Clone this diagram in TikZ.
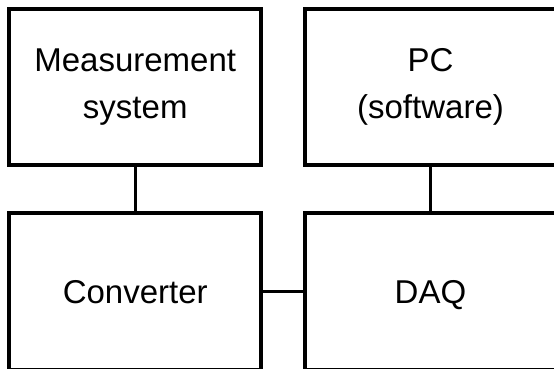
\documentclass[tikz,border=0pt]{standalone}
\usepackage{fontspec}
\setmainfont{Liberation Sans}
\begin{document}
\begin{tikzpicture}[x=1pt,y=-1pt,
  blockbox/.style={draw=black, line width=4pt, minimum width=252pt, align=center,
    inner sep=0pt, font=\fontsize{33}{47}\selectfont},
  link/.style={draw=black, line width=3pt}]
\clip (0,0) rectangle (554,369);
\useasboundingbox (0,0) rectangle (554,369);
\node[blockbox, minimum height=156pt] (ms) at (135.25,87) {Measurement\\system};
\node[blockbox, minimum height=156pt] (pc) at (430.5,87) {PC\\(software)};
\node[blockbox, minimum height=157pt, text depth=0pt] (conv) at (135.25,291.5) {Converter};
\node[blockbox, minimum height=157pt, text depth=0pt] (daq) at (430.5,291.5) {DAQ};
\draw[link] (ms.south) -- (conv.north);
\draw[link] (pc.south) -- (daq.north);
\draw[link] (conv.east) -- (daq.west);
\end{tikzpicture}
\end{document}
